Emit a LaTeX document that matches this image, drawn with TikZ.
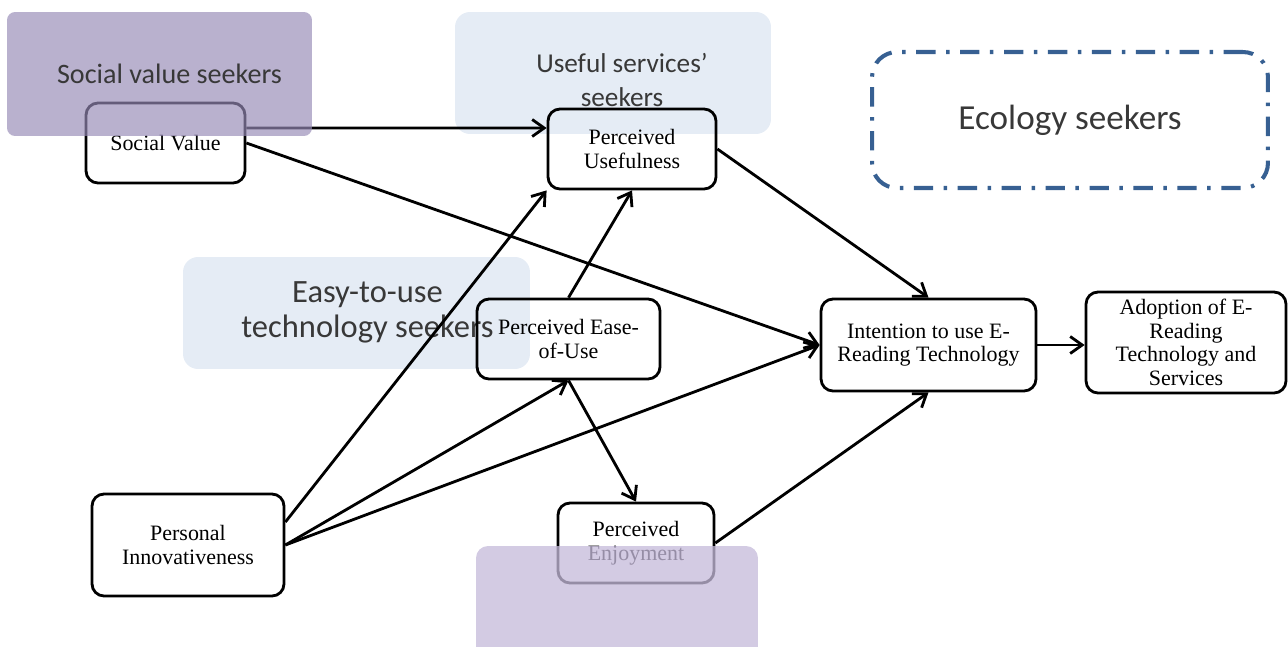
\documentclass[tikz,border=0pt]{standalone}
\usepackage{fontspec}
\setmainfont{Liberation Serif}
\newfontfamily\seekfont{Carlito}
\usetikzlibrary{positioning, arrows.meta}
\definecolor{seekblue}{RGB}{229,236,245}
\definecolor{ecoblue}{RGB}{55,96,146}
\definecolor{svpurple}{RGB}{150,138,182}
\definecolor{enjpurple}{RGB}{197,186,218}

\begin{document}
\begin{tikzpicture}[x=0.02cm, y=-0.02cm, >={Straight Barb[length=2.4mm, width=3.4mm]}, line width=1.6pt,
    box/.style={draw, rounded corners=0.24cm, align=center, inner sep=0pt, font=\fontsize{12.5}{13.5}\selectfont},
    seekers/.style={rounded corners=0.3cm, inner sep=0pt, align=center, text=black!78},
    seektext/.style={align=center, inner sep=0pt, text=black!78, text opacity=1}]
  \useasboundingbox (0,0) rectangle (1288,646);

  \node[seekers, fill=seekblue, minimum width=6.32cm, minimum height=2.44cm,
    label={[seektext, xshift=0.18cm, yshift=-0.14cm, font=\seekfont\fontsize{15.5}{18.8}\selectfont]center:{Useful services’\\seekers}}] (useek) at (613,73) {};
  \node[seekers, fill=seekblue, minimum width=6.94cm, minimum height=2.24cm,
    label={[seektext, xshift=0.22cm, yshift=0.02cm, font=\seekfont\fontsize{18.5}{20}\selectfont]center:{Easy-to-use\\technology seekers}}] (eseek) at (356.5,313) {};
  \node[seekers, draw=ecoblue, line width=2.3pt, dash pattern=on 11pt off 6pt on 2pt off 6pt, rounded corners=0.5cm, minimum width=7.92cm, minimum height=2.72cm, font=\seekfont\fontsize{20}{24}\selectfont] (ecoseek) at (1070,120) {Ecology seekers};

  \node[box, minimum width=3.18cm, minimum height=1.6cm] (sv) at (165.5,143) {Social Value};
  \node[box, minimum width=3.36cm, minimum height=1.6cm] (pu) at (632,149) {Perceived\\Usefulness};
  \node[box, minimum width=3.66cm, minimum height=1.6cm] (peou) at (568.5,339) {Perceived Ease-\\of-Use};
  \node[box, minimum width=4.3cm, minimum height=1.84cm] (int) at (928.5,345) {Intention to use E-\\Reading Technology};
  \node[box, minimum width=4cm, minimum height=2.02cm] (adopt) at (1186,342.5) {Adoption of E-\\Reading\\Technology and\\Services};
  \node[box, minimum width=3.84cm, minimum height=2.04cm] (pi) at (188,545) {Personal\\Innovativeness};
  \node[box, minimum width=3.12cm, minimum height=1.6cm] (pe) at (636,543) {Perceived\\Enjoyment};

  \path[->]
    ([yshift=0.3cm]sv.east) edge ([yshift=0.42cm]pu.west)
    (sv.east) edge (int.west)
    (pu.east) edge (int.north)
    (peou.north) edge (pu.south)
    (peou.south) edge (pe.north)
    ([yshift=0.46cm]pi.east) edge (pu.south west)
    (pi.east) edge (peou.south)
    (pi.east) edge (int.west)
    (pe.east) edge (int.south)
    (int.east) edge (int.east -| adopt.west)
  ;

  \node[seekers, rounded corners=0.16cm, fill=svpurple, fill opacity=.67, minimum width=6.1cm, minimum height=2.48cm,
    label={[seektext, xshift=0.2cm, font=\seekfont\fontsize{16}{19}\selectfont]center:Social value seekers}] (svseek) at (159.5,74) {};
  \node[seekers, rounded corners=0.24cm, fill=enjpurple, fill opacity=.76, minimum width=5.64cm, minimum height=2.28cm] (enjseek) at (617,603) {};
\end{tikzpicture}
\end{document}
